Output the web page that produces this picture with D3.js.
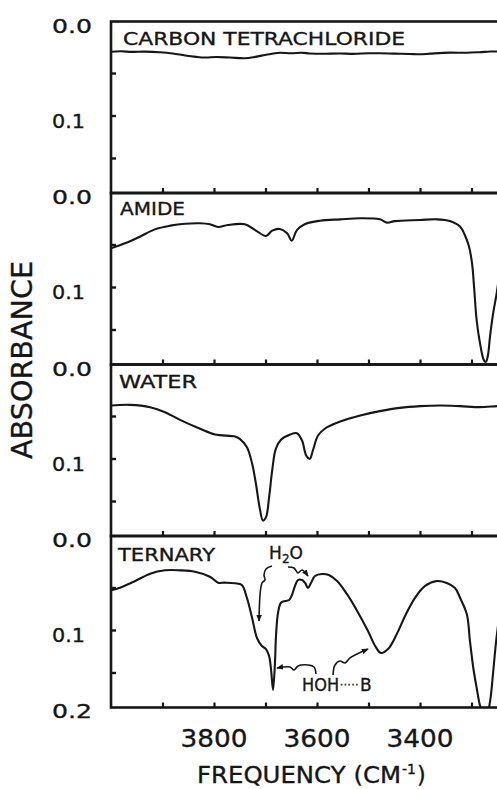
<!DOCTYPE html>
<html>
<head>
<meta charset="utf-8">
<script src="https://cdn.jsdelivr.net/npm/d3@7"></script>
<style>
  body { margin: 0; background: #fff; }
  svg { display: block; }
  text { font-family: "DejaVu Sans", sans-serif; fill: #161616; stroke: #161616; stroke-width: 0.35; }
</style>
</head>
<body>
<svg id="chart" width="497" height="789"></svg>
<script>
// ---- data -------------------------------------------------------------
const panelNames = ["CARBON TETRACHLORIDE", "AMIDE", "WATER", "TERNARY"];
const freqTicks = [3900, 3800, 3700, 3600, 3500, 3400, 3300, 3200];
const freqTickLabels = [3800, 3600, 3400];
const absTicks = [0.05, 0.1, 0.15];

// carbon tetrachloride baseline
const ccl4Freq = [4000, 3980, 3960, 3935, 3905, 3880, 3856, 3835, 3817, 3795, 3769, 3740, 3720, 3701, 3685, 3672, 3650, 3630, 3614, 3590, 3555, 3530, 3500, 3478, 3450, 3420, 3400, 3380, 3342, 3310, 3284, 3264, 3240];
const ccl4Abs  = [0.025, 0.0245, 0.0252, 0.0248, 0.0255, 0.027, 0.0294, 0.031, 0.0318, 0.0312, 0.0318, 0.0326, 0.031, 0.0288, 0.027, 0.0262, 0.0268, 0.0262, 0.027, 0.0274, 0.027, 0.0275, 0.0268, 0.0267, 0.0272, 0.0276, 0.028, 0.0272, 0.026, 0.0262, 0.0255, 0.0247, 0.0247];

// amide
const amideFreq = [4000, 3973, 3944, 3915, 3885, 3856, 3827, 3808, 3792, 3773, 3740, 3720, 3699, 3687, 3672, 3658, 3649, 3639, 3623, 3594, 3555, 3516, 3478, 3464, 3449, 3400, 3367, 3342, 3322, 3313, 3305, 3299, 3295, 3290, 3283.5, 3276, 3272, 3268, 3264, 3258, 3251, 3245];
const amideAbs  = [0.0545, 0.0486, 0.0408, 0.0322, 0.0278, 0.0255, 0.025, 0.0262, 0.0294, 0.027, 0.0262, 0.033, 0.04, 0.0337, 0.0318, 0.0369, 0.0455, 0.033, 0.0259, 0.022, 0.0204, 0.0192, 0.0204, 0.0243, 0.0225, 0.0212, 0.0204, 0.0224, 0.029, 0.0388, 0.052, 0.072, 0.1, 0.139, 0.166, 0.186, 0.188, 0.18, 0.158, 0.131, 0.107, 0.08];

// water
const waterFreq = [4000, 3963, 3924, 3895, 3866, 3827, 3798, 3759, 3750, 3736, 3726, 3718.5, 3711, 3705, 3699, 3693, 3687, 3680, 3670, 3652, 3639, 3629, 3621, 3614, 3608, 3598, 3585, 3555, 3516, 3478, 3439, 3400, 3361, 3322, 3284, 3250, 3240];
const waterAbs  = [0.0376, 0.0369, 0.0396, 0.0455, 0.0545, 0.065, 0.0718, 0.0741, 0.0769, 0.0867, 0.106, 0.13, 0.159, 0.173, 0.169, 0.1455, 0.114, 0.0886, 0.078, 0.0718, 0.0702, 0.0788, 0.0965, 0.1004, 0.0906, 0.073, 0.065, 0.0565, 0.0494, 0.0443, 0.0404, 0.0384, 0.0376, 0.0384, 0.0396, 0.0384, 0.0384];

// ternary mixture
const ternaryFreq = [4000, 3982.5, 3953, 3924, 3895, 3866, 3837, 3808, 3792, 3779, 3759, 3746, 3736, 3726, 3716.5, 3707, 3699, 3693, 3689, 3685.4, 3681.6, 3679.6, 3675.7, 3670, 3662, 3654, 3648.6, 3642.7, 3637, 3629, 3623, 3617.5, 3611.7, 3604, 3590, 3577, 3561, 3542, 3522, 3501, 3487, 3476, 3462, 3445, 3429, 3410, 3390, 3367, 3348, 3332, 3322, 3309, 3303, 3296.5, 3290, 3283.5, 3277.7, 3270, 3264, 3258, 3252.5, 3245];
const ternaryAbs  = [0.0533, 0.0502, 0.0424, 0.0337, 0.0298, 0.0298, 0.0314, 0.0373, 0.0443, 0.0443, 0.045, 0.047, 0.0624, 0.0859, 0.1094, 0.1188, 0.1224, 0.1306, 0.148, 0.1706, 0.138, 0.107, 0.08, 0.068, 0.0659, 0.0647, 0.0588, 0.0482, 0.0412, 0.0412, 0.0447, 0.0506, 0.0447, 0.0365, 0.0341, 0.0353, 0.0424, 0.0576, 0.0776, 0.1012, 0.1188, 0.127, 0.1224, 0.1047, 0.0835, 0.0624, 0.0482, 0.0424, 0.0447, 0.0506, 0.0624, 0.0816, 0.113, 0.1447, 0.168, 0.189, 0.198, 0.198, 0.184, 0.15, 0.115, 0.078];

// annotation arrows in the ternary panel (frequency, absorbance)
const arrowH2OaFreq = [3687.4, 3699.0, 3702.9, 3701.0, 3706.8, 3712.6];
const arrowH2OaAbs  = [0.0247, 0.0282, 0.0353, 0.0412, 0.0447, 0.0894];
const arrowH2ObFreq = [3656.3, 3644.7, 3636.9, 3629.1, 3617.5];
const arrowH2ObAbs  = [0.0259, 0.0271, 0.0329, 0.0294, 0.0365];
const arrowHOHaFreq = [3601.9, 3605.8, 3617.5, 3636.9, 3644.7, 3652.4, 3677.7];
const arrowHOHaAbs  = [0.1518, 0.1435, 0.1412, 0.1424, 0.1471, 0.1435, 0.1447];
const arrowHOHbFreq = [3568.9, 3565.1, 3555.4, 3545.6, 3535.9, 3501.0];
const arrowHOHbAbs  = [0.1529, 0.1412, 0.1365, 0.1388, 0.1329, 0.1224];

const series = [
  { freq: ccl4Freq, abs: ccl4Abs },
  { freq: amideFreq, abs: amideAbs },
  { freq: waterFreq, abs: waterAbs },
  { freq: ternaryFreq, abs: ternaryAbs }
];

// ---- layout -----------------------------------------------------------
const svg = d3.select("#chart");
const ink = "#161616";
const left = 111, top0 = 21.5, panelH = 171.5;

const x = d3.scaleLinear().domain([4000, 3200]).range([left, 523]);

const defs = svg.append("defs");
defs.append("marker")
  .attr("id", "head")
  .attr("viewBox", "0 -4 8 8")
  .attr("refX", 7).attr("refY", 0)
  .attr("markerWidth", 7).attr("markerHeight", 7)
  .attr("markerUnits", "userSpaceOnUse")
  .attr("orient", "auto")
  .append("path").attr("d", "M0,-3.2L8,0L0,3.2Z").attr("fill", ink);

series.forEach((s, i) => {
  const T = top0 + i * panelH;
  const B = T + panelH;
  const y = d3.scaleLinear().domain([0, 0.2]).range([T + 9, T + 179]);
  const g = svg.append("g");

  const clipId = "clip" + i;
  defs.append("clipPath").attr("id", clipId)
    .append("rect").attr("x", left).attr("y", T).attr("width", 420).attr("height", panelH);

  // spectrum trace
  const line = d3.line()
    .x((d, k) => x(s.freq[k]))
    .y((d, k) => y(s.abs[k]))
    .curve(d3.curveCatmullRom.alpha(0.5));
  g.append("path")
    .datum(s.freq)
    .attr("clip-path", `url(#${clipId})`)
    .attr("d", line)
    .attr("fill", "none")
    .attr("stroke", ink)
    .attr("stroke-width", 2.1)
    .attr("stroke-linejoin", "round");

  // frame
  g.append("rect")
    .attr("x", left).attr("y", T)
    .attr("width", x(3200) - left).attr("height", panelH)
    .attr("fill", "none").attr("stroke", ink).attr("stroke-width", 2.6);

  // inward ticks
  const yAxis = g.append("g").attr("transform", `translate(${left},0)`)
    .call(d3.axisRight(y).tickValues(absTicks).tickSize(5).tickFormat(""));
  yAxis.select(".domain").remove();
  yAxis.selectAll("line").attr("stroke", ink).attr("stroke-width", 2.4);

  const xAxis = g.append("g").attr("transform", `translate(0,${B})`)
    .call(d3.axisTop(x).tickValues(freqTicks).tickSize(5).tickFormat(""));
  xAxis.select(".domain").remove();
  xAxis.selectAll("line").attr("stroke", ink).attr("stroke-width", 2.2);

  // y tick labels
  const yLabels = [{ v: 0, t: "0.0", dy: -5, w: 40 }, { v: 0.1, t: "0.1", dy: 5, w: 33 }];
  if (i === 3) yLabels.push({ v: 0.2, t: "0.2", dy: -4, w: 40 });
  yLabels.forEach(l => {
    g.append("text")
      .attr("x", 52).attr("y", y(l.v) + l.dy + 7)
      .attr("font-size", 19.5)
      .attr("textLength", l.w).attr("lengthAdjust", "spacingAndGlyphs")
      .text(l.t);
  });

  // panel title
  const titleW = [282, 65, 78, 97][i];
  const titleX = [123, 120, 119, 118][i];
  g.append("text")
    .attr("x", titleX).attr("y", T + [23, 22, 23, 25][i])
    .attr("font-size", 18)
    .attr("textLength", titleW).attr("lengthAdjust", "spacingAndGlyphs")
    .text(panelNames[i]);

  if (i === 3) {
    const arrow = (fs, as) => {
      const ln = d3.line().x((d, k) => x(fs[k])).y((d, k) => y(as[k])).curve(d3.curveCatmullRom.alpha(0.5));
      g.append("path").datum(fs).attr("d", ln)
        .attr("fill", "none").attr("stroke", ink).attr("stroke-width", 1.6)
        .attr("marker-end", "url(#head)");
    };
    arrow(arrowH2OaFreq, arrowH2OaAbs);
    arrow(arrowH2ObFreq, arrowH2ObAbs);
    arrow(arrowHOHaFreq, arrowHOHaAbs);
    arrow(arrowHOHbFreq, arrowHOHbAbs);

    const h2o = g.append("text").attr("x", x(3693)).attr("y", y(0.0165)).attr("font-size", 17);
    h2o.append("tspan").text("H");
    h2o.append("tspan").attr("font-size", 12).attr("dy", 4).text("2");
    h2o.append("tspan").attr("dy", -4).text("O");

    const hoh = g.append("text").attr("x", x(3629)).attr("y", y(0.172)).attr("font-size", 17);
    hoh.append("tspan").attr("textLength", 37).attr("lengthAdjust", "spacingAndGlyphs").text("HOH");
    hoh.append("tspan").attr("font-size", 10).attr("dx", 1).attr("dy", -3.5).attr("letter-spacing", 0.6).text("·····");
    hoh.append("tspan").attr("dy", 3.5).attr("dx", 1).text("B");
  }
});

// frequency labels
freqTickLabels.forEach(v => {
  svg.append("text")
    .attr("x", x(v)).attr("y", 747)
    .attr("text-anchor", "middle")
    .attr("font-size", 25)
    .attr("textLength", 67).attr("lengthAdjust", "spacingAndGlyphs")
    .text(v);
});

// axis titles
const xt = svg.append("text")
  .attr("x", 197).attr("y", 783)
  .attr("font-size", 22.5);
xt.append("tspan").attr("textLength", 204).attr("lengthAdjust", "spacingAndGlyphs").text("FREQUENCY (CM");
xt.append("tspan").attr("font-size", 14).attr("dy", -9).attr("dx", 1).text("-1");
xt.append("tspan").attr("dy", 9).attr("dx", 1).text(")");

svg.append("text")
  .attr("transform", "translate(32,360) rotate(-90)")
  .attr("text-anchor", "middle")
  .attr("font-size", 28)
  .attr("textLength", 198).attr("lengthAdjust", "spacingAndGlyphs")
  .text("ABSORBANCE");
</script>
</body>
</html>
